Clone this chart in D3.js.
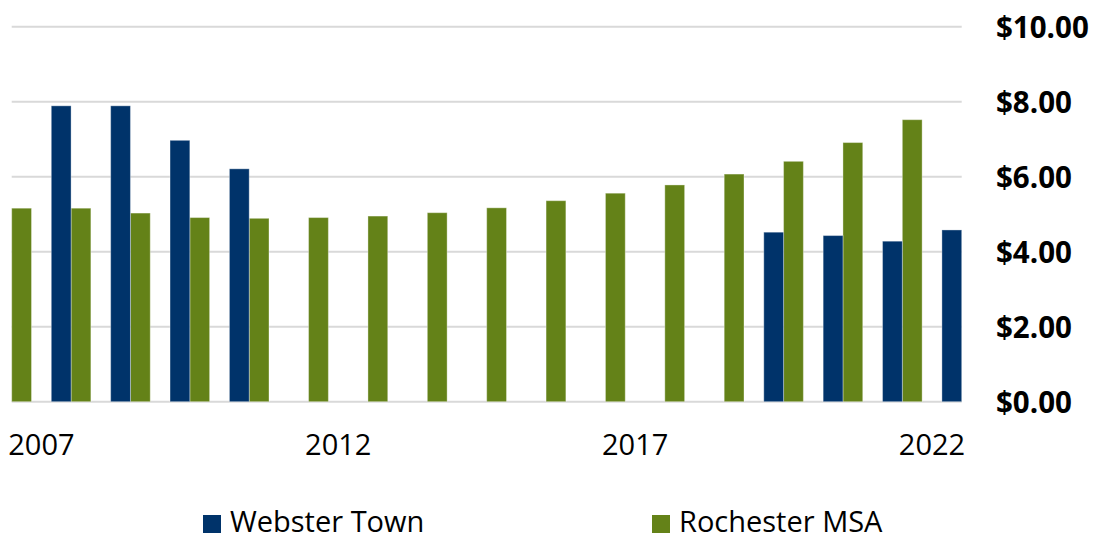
<!DOCTYPE html>
<html>
<head>
<meta charset="utf-8">
<script src="https://cdn.jsdelivr.net/npm/d3@7"></script>
<style>
  html, body { margin: 0; padding: 0; background: #ffffff; }
  svg { display: block; font-family: "Open Sans", "Noto Sans", sans-serif; }
</style>
</head>
<body>
<svg id="chart" width="1098" height="540"></svg>
<script>
// Hourly wage series by year
const years = [2007, 2008, 2009, 2010, 2011, 2012, 2013, 2014, 2015, 2016, 2017, 2018, 2019, 2020, 2021, 2022];
const websterTown = [7.89, 7.89, 6.97, 6.21, null, null, null, null, null, null, null, null, 4.52, 4.43, 4.28, 4.58];
const rochesterMSA = [5.16, 5.16, 5.03, 4.91, 4.89, 4.91, 4.95, 5.04, 5.17, 5.36, 5.56, 5.78, 6.07, 6.41, 6.91, 7.52];
const yTicks = [0, 2, 4, 6, 8, 10];
const xTickYears = [2007, 2012, 2017, 2022];
const seriesNames = ["Webster Town", "Rochester MSA"];
const seriesColors = ["#00336a", "#648218"];

const svg = d3.select("#chart");

const x = d3.scaleBand().domain(years).range([11.7, 961.7]).paddingInner(0).paddingOuter(0);
const y = d3.scaleLinear().domain([0, 10]).range([401.7, 26.7]);
const bw = x.bandwidth() / 3;
const fmt = d3.format("$.2f");

// gridlines
svg.append("g")
  .selectAll("line")
  .data(yTicks)
  .join("line")
  .attr("x1", x.range()[0])
  .attr("x2", x.range()[1])
  .attr("y1", d => y(d))
  .attr("y2", d => y(d))
  .attr("stroke", "#d9d9d9")
  .attr("stroke-width", 2);

// value axis on the right
const yAxis = svg.append("g")
  .attr("transform", "translate(996,0)")
  .call(d3.axisRight(y).tickValues(yTicks).tickFormat(fmt).tickSize(0).tickPadding(0));
yAxis.select(".domain").remove();
yAxis.selectAll("text")
  .attr("font-family", "'Open Sans', sans-serif")
  .attr("font-size", 29.5)
  .attr("font-weight", "bold")
  .attr("fill", "#000")
  .attr("dy", "0.36em");

// category axis labels
const xAxis = svg.append("g")
  .attr("transform", "translate(0,434)")
  .call(d3.axisBottom(x).tickValues(xTickYears).tickSize(0).tickPadding(0));
xAxis.select(".domain").remove();
xAxis.selectAll("text")
  .attr("font-family", "'Open Sans', sans-serif")
  .attr("font-size", 29)
  .attr("fill", "#000")
  .attr("dy", "0.71em");

// bars: Rochester MSA on the left third of each year, Webster Town on the right third
const rows = years.map((yr, i) => ({ year: yr, webster: websterTown[i], rochester: rochesterMSA[i] }));

svg.append("g")
  .selectAll("rect")
  .data(rows.filter(d => d.rochester != null))
  .join("rect")
  .attr("x", d => x(d.year))
  .attr("width", bw)
  .attr("y", d => y(d.rochester))
  .attr("height", d => y(0) - y(d.rochester))
  .attr("fill", seriesColors[1])
  .attr("stroke", "rgba(255,255,255,0.35)")
  .attr("stroke-width", 1);

svg.append("g")
  .selectAll("rect")
  .data(rows.filter(d => d.webster != null))
  .join("rect")
  .attr("x", d => x(d.year) + 2 * bw)
  .attr("width", bw)
  .attr("y", d => y(d.webster))
  .attr("height", d => y(0) - y(d.webster))
  .attr("fill", seriesColors[0])
  .attr("stroke", "rgba(255,255,255,0.35)")
  .attr("stroke-width", 1);

// legend
const legendX = [203, 652];
const legend = svg.append("g")
  .selectAll("g")
  .data(seriesNames)
  .join("g")
  .attr("transform", (d, i) => `translate(${legendX[i]},515)`);
legend.append("rect")
  .attr("width", 18)
  .attr("height", 18)
  .attr("fill", (d, i) => seriesColors[i]);
legend.append("text")
  .attr("x", 27)
  .attr("y", 17)
  .attr("font-size", 29)
  .attr("fill", "#000")
  .text(d => d);
</script>
</body>
</html>
